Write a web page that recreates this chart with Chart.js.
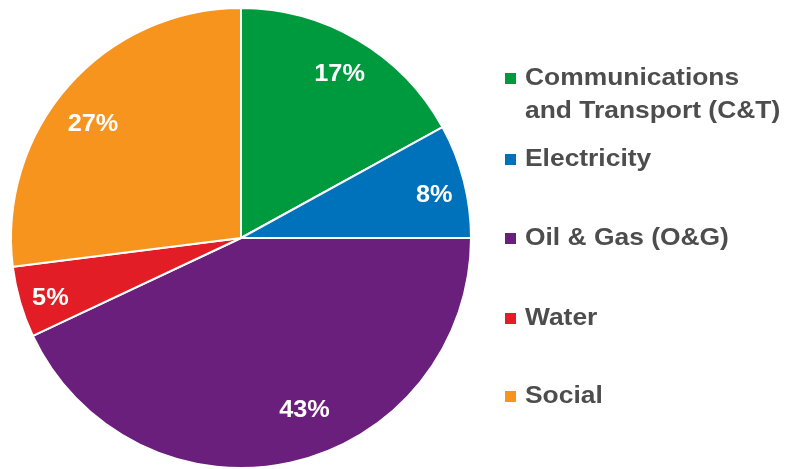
<!DOCTYPE html>
<html>
<head>
<meta charset="utf-8">
<script src="https://cdn.jsdelivr.net/npm/chart.js@4.4.0/dist/chart.umd.min.js"></script>
<style>
  html, body { margin: 0; padding: 0; background: #fff; }
  #wrap { width: 786px; height: 469px; }
</style>
</head>
<body>
<div id="wrap"><canvas id="c" width="786" height="469"></canvas></div>
<script>
const sectors = ['Communications\nand Transport (C&T)', 'Electricity', 'Oil & Gas (O&G)', 'Water', 'Social'];
const shares = [17, 8, 43, 5, 27];
const colors = ['#009a3e', '#0072bc', '#6b1f7c', '#e31d25', '#f7941d'];

// label placement per slice: radius fraction and angle nudge (degrees)
const labelRadius = [0.83, 0.86, 0.80, 0.87, 0.81];
const labelNudge = [0.5, 2, -7.6, -1.5, -4];
const legendY = [78, 159, 238, 318, 396];

// the source text is a little wider than Liberation Sans, so stretch it
function wideText(ctx, txt, x, y, stretch) {
    ctx.save();
    ctx.translate(x, y);
    ctx.scale(stretch, 1);
    ctx.fillText(txt, 0, 0);
    ctx.restore();
}

const sliceLabels = {
    id: 'sliceLabels',
    afterDatasetsDraw(chart) {
        const ctx = chart.ctx;
        const meta = chart.getDatasetMeta(0);
        ctx.save();
        ctx.fillStyle = '#ffffff';
        ctx.font = 'bold 23px "Liberation Sans", Arial, sans-serif';
        ctx.textAlign = 'center';
        ctx.textBaseline = 'middle';
        meta.data.forEach((arc, i) => {
            const mid = (arc.startAngle + arc.endAngle) / 2 + labelNudge[i] * Math.PI / 180;
            const r = arc.outerRadius * labelRadius[i];
            wideText(ctx, shares[i] + '%', arc.x + Math.cos(mid) * r, arc.y + Math.sin(mid) * r, 1.1);
        });
        ctx.restore();
    }
};

const sideLegend = {
    id: 'sideLegend',
    afterDraw(chart) {
        const ctx = chart.ctx;
        ctx.save();
        ctx.font = 'bold 24px "Liberation Sans", Arial, sans-serif';
        ctx.textBaseline = 'middle';
        sectors.forEach((name, i) => {
            const y = legendY[i];
            ctx.fillStyle = colors[i];
            ctx.fillRect(505, y - 5, 11, 11);
            ctx.fillStyle = '#4d4d4d';
            name.split('\n').forEach((line, j) => {
                wideText(ctx, line, 525, y + j * 33, 1.1);
            });
        });
        ctx.restore();
    }
};

new Chart(document.getElementById('c'), {
    type: 'pie',
    data: {
        labels: sectors,
        datasets: [{
            data: shares,
            backgroundColor: colors,
            borderColor: '#ffffff',
            borderWidth: 2
        }]
    },
    options: {
        responsive: false,
        animation: false,
        layout: { padding: { left: 9, top: 7, right: 313, bottom: -3 } },
        plugins: {
            legend: { display: false },
            tooltip: { enabled: false }
        }
    },
    plugins: [sliceLabels, sideLegend]
});
</script>
</body>
</html>
